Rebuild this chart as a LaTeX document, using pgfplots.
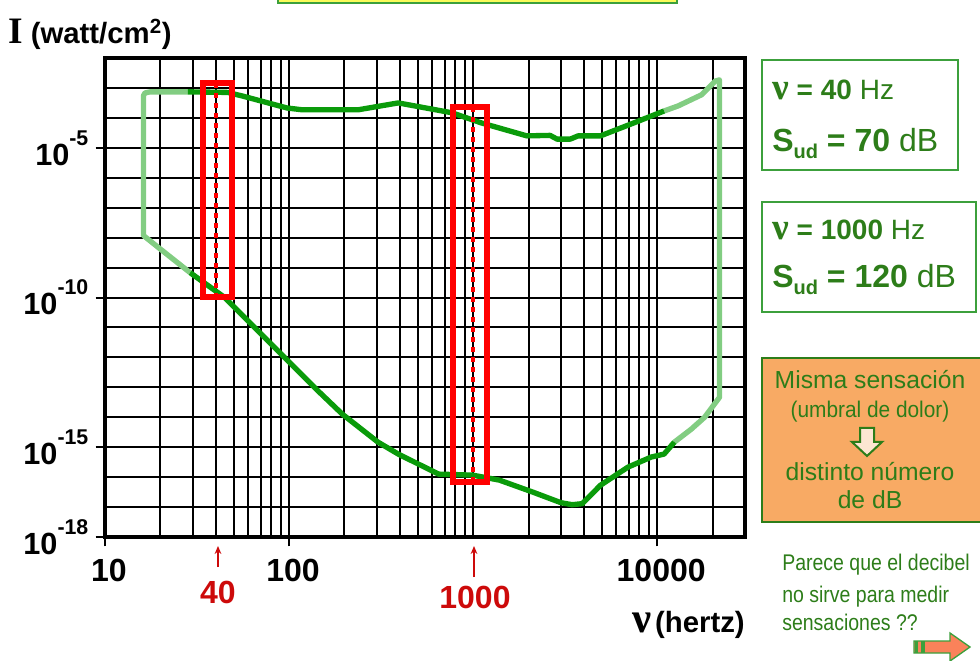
\documentclass[border=0pt]{standalone}
\usepackage{pgfplots}
\pgfplotsset{compat=1.18}
\usetikzlibrary{arrows.meta}
\usepackage{fontspec}
\setmainfont{Liberation Sans}
\newfontfamily\serif{Liberation Serif}
\definecolor{dkgreen}{RGB}{10,155,10}
\definecolor{ltgreen}{RGB}{130,205,130}
\definecolor{txtgreen}{RGB}{45,125,25}
\definecolor{boxgreen}{RGB}{60,160,60}
\definecolor{orangefill}{RGB}{248,170,100}
\definecolor{peach}{RGB}{253,230,210}
\definecolor{arroworange}{RGB}{250,130,90}
\definecolor{redline}{RGB}{255,0,0}
\definecolor{redtext}{RGB}{205,10,10}
\definecolor{yellowbox}{RGB}{250,250,90}
\newcommand{\ylab}[1]{10\raisebox{15pt}{\fontsize{16}{16}\selectfont -#1}}
\begin{document}
\begin{tikzpicture}[x=0.75pt,y=0.75pt]
\useasboundingbox (0,0) rectangle (980,660);
\begin{axis}[
  at={(78.75pt,92.25pt)}, anchor=south west,
  scale only axis, width=480pt, height=359.25pt,
  xmode=log, ymode=log,
  xmin=10, xmax=30000, ymin=1e-18, ymax=1e-2,
  xtick={10,100,10000}, xticklabels={10,100,10000},
  minor xtick={20,30,40,50,60,70,80,90,200,300,400,500,600,700,800,900,1000,2000,3000,4000,5000,6000,7000,8000,9000,20000},
  ytick={1e-18,1e-15,1e-10,1e-5},
  yticklabels={\ylab{18},\ylab{15},\ylab{10},\ylab{5}},
  minor ytick={1e-17,1e-16,1e-14,1e-13,1e-12,1e-11,1e-9,1e-8,1e-7,1e-6,1e-4,1e-3},
  grid=both,
  major grid style={black, line width=1.5pt},
  minor grid style={black, line width=1.5pt},
  axis line style={black, line width=2.6pt},
  tick align=outside, tick pos=left,
  major tick length=7pt, minor tick length=0pt,
  tick style={black, line width=1.5pt},
  xticklabel style={font=\fontsize{24}{24}\selectfont\bfseries, yshift=-6pt, xshift=3pt},
  yticklabel style={font=\fontsize{23}{23}\selectfont\bfseries, xshift=-2pt},
]
% pain threshold / hearing threshold boundary (light parts)
\addplot[ltgreen, line width=4pt, line join=round] coordinates {
 (28.2,7.41e-4) (17.6,7.41e-4) (16.5,6.8e-4) (16.2,5.6e-4) (16.2,1.17e-8) (19.5,4.68e-9) (29,6.76e-10)};
\addplot[ltgreen, line width=4pt, line join=round] coordinates {
 (10900,1.70e-4) (13000,2.51e-4) (17400,5.89e-4) (20700,1.70e-3) (21800,1.86e-3) (21800,4.64e-14) (18100,1e-14) (15300,3.98e-15) (12400,1.48e-15)};
% upper curve (threshold of pain)
\addplot[dkgreen, line width=4pt, line join=round] coordinates {
 (28.2,7.41e-4) (46.4,7.08e-4) (55.8,5.37e-4) (97.5,2.14e-4) (118,1.86e-4) (237,1.86e-4) (392,3.16e-4) (767,1.48e-4) (1107,6.8e-5) (1955,2.51e-5) (2620,2.6e-5) (2860,1.95e-5) (3370,1.95e-5) (3720,2.51e-5) (4920,2.51e-5) (7480,6.81e-5) (10900,1.70e-4)};
% lower curve (threshold of hearing)
\addplot[dkgreen, line width=4pt, line join=round] coordinates {
 (29,6.76e-10) (44.7,1e-10) (142.6,7.94e-14) (195,1.26e-14) (304,1.48e-15) (392,5.89e-16) (650,1.26e-16) (989,1.17e-16) (1390,7.94e-17) (2110,3.16e-17) (3000,1.4e-17) (3450,1.2e-17) (3920,1.3e-17) (4920,5.37e-17) (6920,2.14e-16) (9270,4.68e-16) (10900,5.89e-16) (12400,1.48e-15)};
% red markers
\addplot[redline, line width=3pt, dash pattern=on 3.5pt off 4pt] coordinates {(40,1.41e-3) (40,1.05e-10)};
\addplot[redline, line width=3pt, dash pattern=on 3.5pt off 4pt] coordinates {(1000,2.24e-4) (1000,7.08e-17)};
\addplot[redline, line width=4.5pt, line cap=rect, line join=miter] coordinates {
 (33.9,1.41e-3) (49.1,1.41e-3) (49.1,1.05e-10) (33.9,1.05e-10) (33.9,1.41e-3)};
\addplot[redline, line width=4.5pt, line cap=rect, line join=miter] coordinates {
 (782,2.24e-4) (1186,2.24e-4) (1186,7.08e-17) (782,7.08e-17) (782,2.24e-4)};
\end{axis}
% top box (cut)
\filldraw[fill=yellowbox, draw=boxgreen, line width=1.5pt] (278,657) rectangle (677,680);
% axis labels
\node[anchor=base west, inner sep=0] at (8,616) {{\serif\bfseries\fontsize{28}{28}\selectfont I}\hspace{6pt}{\fontsize{22}{22}\selectfont\bfseries (watt/cm\textsuperscript{2})}};
\node[anchor=base east, inner sep=0] at (745,28) {{\serif\bfseries\fontsize{32}{32}\selectfont ν}\hspace{3pt}{\fontsize{22}{22}\selectfont\bfseries (hertz)}};
% red labels and arrows
\draw[redtext, line width=1pt, -{Stealth[length=6pt,width=5pt]}] (218,93) -- (218,114);
\draw[redtext, line width=1pt, -{Stealth[length=6pt,width=5pt]}] (474,83) -- (474,114);
\node[text=redtext, font=\fontsize{24}{24}\selectfont\bfseries] at (218,68) {40};
\node[text=redtext, font=\fontsize{24}{24}\selectfont\bfseries] at (475,63) {1000};
% info boxes
\draw[boxgreen, line width=1.5pt] (762,600) rectangle (958,490);
\node[anchor=base west, inner sep=0, text=txtgreen] at (772,560) {{\serif\bfseries\fontsize{28}{28}\selectfont ν}{\fontsize{21}{21}\selectfont\bfseries\ = 40 \mdseries Hz}};
\node[anchor=base west, inner sep=0, text=txtgreen] at (772,508) {\fontsize{24}{24}\selectfont\bfseries S\raisebox{-5pt}{\fontsize{15}{15}\selectfont ud} = 70 \mdseries dB};
\draw[boxgreen, line width=1.5pt] (762,458) rectangle (976,348);
\node[anchor=base west, inner sep=0, text=txtgreen] at (772,420) {{\serif\bfseries\fontsize{28}{28}\selectfont ν}{\fontsize{21}{21}\selectfont\bfseries\ = 1000 \mdseries Hz}};
\node[anchor=base west, inner sep=0, text=txtgreen] at (772,372) {\fontsize{24}{24}\selectfont\bfseries S\raisebox{-5pt}{\fontsize{15}{15}\selectfont ud} = 120 \mdseries dB};
% orange box
\filldraw[fill=orangefill, draw=txtgreen, line width=1.5pt] (762,302) rectangle (990,138);
\node[text=txtgreen, font=\fontsize{18.5}{18.5}\selectfont] at (870,280) {Misma sensación};
\node[text=txtgreen, font=\fontsize{17}{17}\selectfont] at (870,248) {\scalebox{0.92}[1]{(umbral de dolor)}};
\filldraw[fill=peach, draw=txtgreen, line width=1.5pt, line join=miter]
  (860,232) -- (874,232) -- (874,218) -- (882,218) -- (867,204) -- (852,218) -- (860,218) -- cycle;
\node[text=txtgreen, font=\fontsize{18.5}{18.5}\selectfont] at (870,188) {distinto número};
\node[text=txtgreen, font=\fontsize{18.5}{18.5}\selectfont] at (870,160) {de dB};
% bottom note
\node[anchor=base west, inner sep=0, text=txtgreen, font=\fontsize{17}{17}\selectfont] at (782,90) {\scalebox{0.86}[1]{Parece que el decibel}};
\node[anchor=base west, inner sep=0, text=txtgreen, font=\fontsize{17}{17}\selectfont] at (782,58) {\scalebox{0.86}[1]{no sirve para medir}};
\node[anchor=base west, inner sep=0, text=txtgreen, font=\fontsize{17}{17}\selectfont] at (782,30) {\scalebox{0.86}[1]{sensaciones ??}};
\filldraw[fill=arroworange, draw=boxgreen, line width=1pt, line join=miter]
  (914,19) -- (950,19) -- (950,27) -- (970,13) -- (950,-1) -- (950,7) -- (914,7) -- cycle;
\fill[boxgreen] (915,7) rectangle (918,19);
\fill[boxgreen] (921,7) rectangle (925,19);
\end{tikzpicture}
\end{document}
